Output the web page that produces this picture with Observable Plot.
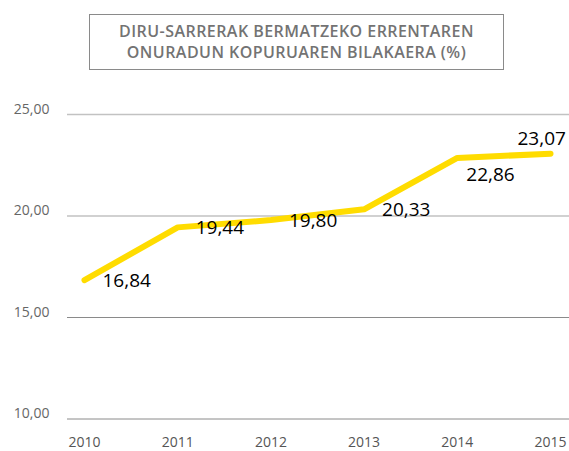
<!DOCTYPE html>
<html>
<head>
<meta charset="utf-8">
<script src="https://cdn.jsdelivr.net/npm/d3@7"></script>
<script src="https://cdn.jsdelivr.net/npm/@observablehq/plot@0.6"></script>
<style>
  html, body { margin: 0; padding: 0; background: #fff; }
  #wrap { width: 569px; height: 451px; position: relative; overflow: hidden; font-family: "Open Sans", sans-serif; }
  #title {
    position: absolute; left: 89px; top: 14px; width: 415px; height: 56px;
    box-sizing: border-box; border: 1px solid #8a8a8a;
    text-align: center; color: #737373; font-weight: 600; font-size: 16px;
    line-height: 21px; padding-top: 6px; letter-spacing: 0.45px;
  }
  #chart { position: absolute; left: 0; top: 0; }
  #chart svg { display: block; }
</style>
</head>
<body>
<div id="wrap">
  <div id="chart"></div>
  <div id="title">DIRU-SARRERAK BERMATZEKO ERRENTAREN<br>ONURADUN KOPURUAREN BILAKAERA (%)</div>
</div>
<script>
const years = [2010, 2011, 2012, 2013, 2014, 2015];
const values = [16.84, 19.44, 19.80, 20.33, 22.86, 23.07];
const yTicks = [10, 15, 20, 25];

const data = years.map((year, i) => ({year, value: values[i], i}));
const fmt = d => d.toFixed(2).replace(".", ",");

const chart = Plot.plot({
  width: 569,
  height: 451,
  marginTop: 114,
  marginBottom: 32.5,
  marginLeft: 67,
  marginRight: 0,
  style: {fontFamily: "Open Sans, sans-serif", background: "#fff"},
  x: {domain: [2010, 2015], insetLeft: 17, insetRight: 19},
  y: {domain: [10, 25]},
  marks: [
    Plot.ruleY(yTicks.filter(t => t >= 20), {stroke: "#c2c2c2", strokeWidth: 1.5}),
    Plot.ruleY(yTicks.filter(t => t < 20), {stroke: "#8a8a8a", strokeWidth: 1}),
    Plot.axisY(yTicks, {tickSize: 0, tickPadding: 18, dy: -5, fontSize: 14, fill: "#666", label: null, tickFormat: fmt}),
    Plot.axisX(years, {tickSize: 0, tickPadding: 18, fontSize: 14, fill: "#555", label: null, tickFormat: d => String(d)}),
    Plot.line(data, {x: "year", y: "value", stroke: "#FFDC00", strokeWidth: 6, strokeLinecap: "round", strokeLinejoin: "round"}),
    Plot.text(data.filter(d => d.i < 4), {x: "year", y: "value", text: d => fmt(d.value), textAnchor: "start", dx: 18, dy: 1, fontSize: 19, fill: "#000"}),
    Plot.text(data.filter(d => d.i === 4), {x: "year", y: "value", text: d => fmt(d.value), textAnchor: "start", dx: 9, dy: 17, fontSize: 19, fill: "#000"}),
    Plot.text(data.filter(d => d.i === 5), {x: "year", y: "value", text: d => fmt(d.value), textAnchor: "start", dx: -33, dy: -15, fontSize: 19, fill: "#000"})
  ]
});
document.getElementById("chart").appendChild(chart);
</script>
</body>
</html>
